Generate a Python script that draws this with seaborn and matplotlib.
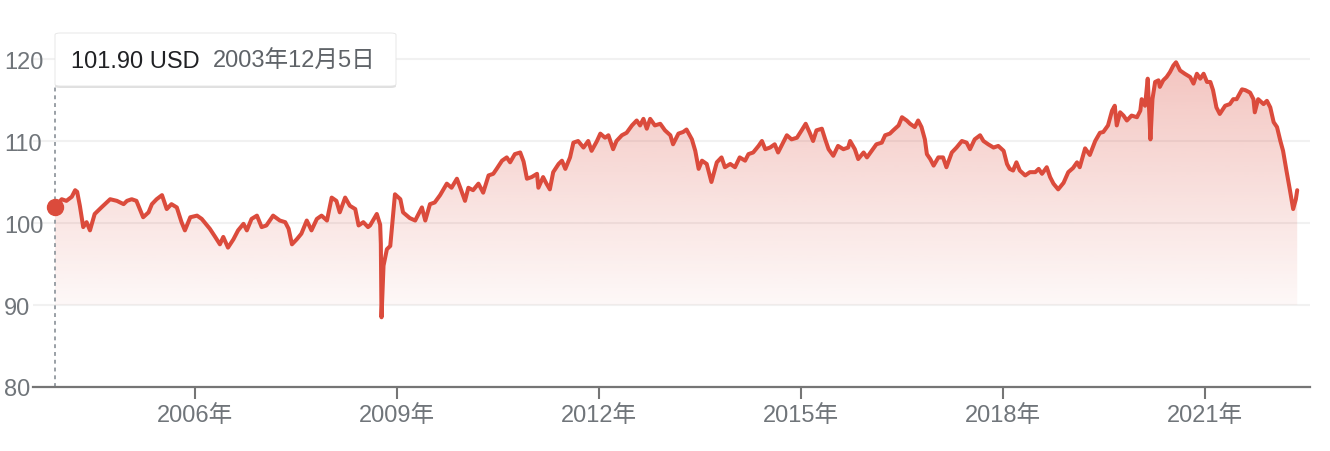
import matplotlib

matplotlib.use("Agg")
import matplotlib.pyplot as plt
import numpy as np
import seaborn as sns
from matplotlib.patches import FancyBboxPatch

# decimal years, with the matching price (USD)
years = [
    2003.92, 2004.02, 2004.09, 2004.17, 2004.22, 2004.25, 2004.29, 2004.34, 2004.39, 2004.44,
    2004.51, 2004.61, 2004.74, 2004.84, 2004.94, 2004.99, 2005.06, 2005.13, 2005.23, 2005.31,
    2005.36, 2005.43, 2005.51, 2005.58, 2005.65, 2005.73, 2005.80, 2005.85, 2005.93, 2006.03,
    2006.10, 2006.17, 2006.22, 2006.30, 2006.37, 2006.42, 2006.49, 2006.57, 2006.64, 2006.72,
    2006.77, 2006.84, 2006.92, 2006.99, 2007.06, 2007.16, 2007.26, 2007.34, 2007.39, 2007.44,
    2007.51, 2007.58, 2007.66, 2007.73, 2007.81, 2007.88, 2007.96, 2008.03, 2008.10, 2008.15,
    2008.23, 2008.30, 2008.38, 2008.43, 2008.50, 2008.57, 2008.60, 2008.70, 2008.75, 2008.76,
    2008.77, 2008.80, 2008.85, 2008.90, 2008.97, 2009.05, 2009.09, 2009.19, 2009.27, 2009.37,
    2009.42, 2009.49, 2009.56, 2009.64, 2009.74, 2009.81, 2009.89, 2009.94, 2010.01, 2010.06,
    2010.13, 2010.21, 2010.28, 2010.36, 2010.43, 2010.48, 2010.56, 2010.63, 2010.68, 2010.75,
    2010.83, 2010.88, 2010.93, 2011.00, 2011.08, 2011.10, 2011.17, 2011.22, 2011.27, 2011.32,
    2011.40, 2011.45, 2011.50, 2011.57, 2011.62, 2011.69, 2011.77, 2011.84, 2011.89, 2011.97,
    2012.02, 2012.09, 2012.14, 2012.21, 2012.26, 2012.34, 2012.41, 2012.49, 2012.56, 2012.61,
    2012.66, 2012.71, 2012.76, 2012.83, 2012.91, 2012.98, 2013.06, 2013.10, 2013.18, 2013.25,
    2013.30, 2013.38, 2013.43, 2013.48, 2013.53, 2013.60, 2013.67, 2013.75, 2013.82, 2013.87,
    2013.95, 2014.02, 2014.09, 2014.17, 2014.22, 2014.29, 2014.37, 2014.42, 2014.47, 2014.54,
    2014.61, 2014.66, 2014.71, 2014.79, 2014.86, 2014.94, 2015.01, 2015.07, 2015.13, 2015.18,
    2015.23, 2015.31, 2015.36, 2015.41, 2015.48, 2015.55, 2015.63, 2015.70, 2015.73, 2015.80,
    2015.85, 2015.93, 2015.98, 2016.05, 2016.12, 2016.20, 2016.25, 2016.32, 2016.37, 2016.45,
    2016.50, 2016.57, 2016.62, 2016.69, 2016.74, 2016.79, 2016.84, 2016.87, 2016.92, 2016.97,
    2017.04, 2017.11, 2017.16, 2017.24, 2017.31, 2017.39, 2017.46, 2017.51, 2017.58, 2017.66,
    2017.71, 2017.78, 2017.86, 2017.93, 2018.01, 2018.06, 2018.10, 2018.15, 2018.20, 2018.25,
    2018.33, 2018.40, 2018.48, 2018.53, 2018.58, 2018.65, 2018.70, 2018.75, 2018.82, 2018.90,
    2018.97, 2019.04, 2019.10, 2019.14, 2019.22, 2019.29, 2019.37, 2019.44, 2019.49, 2019.56,
    2019.62, 2019.66, 2019.69, 2019.74, 2019.79, 2019.84, 2019.91, 2019.99, 2020.04, 2020.06,
    2020.11, 2020.15, 2020.17, 2020.19, 2020.22, 2020.26, 2020.31, 2020.33, 2020.38, 2020.43,
    2020.48, 2020.53, 2020.57, 2020.63, 2020.70, 2020.78, 2020.83, 2020.88, 2020.93, 2020.98,
    2021.03, 2021.08, 2021.12, 2021.17, 2021.22, 2021.30, 2021.37, 2021.42, 2021.47, 2021.55,
    2021.60, 2021.67, 2021.72, 2021.74, 2021.79, 2021.87, 2021.92, 2021.97, 2022.02, 2022.07,
    2022.12, 2022.16, 2022.21, 2022.26, 2022.31, 2022.35, 2022.37,
]
prices = [
    101.9, 102.9, 102.7, 103.2, 104.0, 103.8, 102.1, 99.5, 100.1, 99.1,
    101.1, 101.9, 102.9, 102.7, 102.3, 102.7, 102.9, 102.7, 100.7, 101.3,
    102.3, 102.9, 103.4, 101.7, 102.3, 101.9, 100.1, 99.1, 100.7, 100.9,
    100.5, 99.8, 99.3, 98.3, 97.4, 98.3, 97.0, 98.0, 99.1, 99.9,
    99.1, 100.5, 100.9, 99.5, 99.7, 100.9, 100.3, 100.1, 99.3, 97.4,
    98.0, 98.7, 100.3, 99.1, 100.5, 100.9, 100.3, 103.1, 102.7, 101.3,
    103.1, 102.1, 101.7, 99.7, 100.1, 99.5, 99.7, 101.1, 99.8, 97.5,
    88.5, 94.8, 96.8, 97.2, 103.5, 102.9, 101.3, 100.6, 100.3, 101.9,
    100.3, 102.3, 102.5, 103.4, 104.8, 104.3, 105.4, 104.3, 102.7, 104.3,
    104.0, 104.8, 103.7, 105.8, 106.0, 106.6, 107.6, 108.0, 107.4, 108.4,
    108.6, 107.5, 105.4, 105.6, 106.0, 104.3, 105.6, 104.8, 104.1, 106.2,
    107.2, 107.6, 106.6, 108.0, 109.8, 110.0, 109.2, 110.0, 108.8, 110.0,
    110.9, 110.4, 110.7, 109.0, 110.0, 110.7, 111.0, 111.9, 112.5, 111.9,
    112.7, 111.5, 112.7, 111.9, 112.1, 111.3, 110.7, 109.6, 110.9, 111.1,
    111.4, 110.2, 108.8, 106.6, 107.6, 107.2, 105.0, 107.4, 108.0, 106.8,
    107.2, 106.8, 108.0, 107.6, 108.4, 108.6, 109.4, 110.0, 109.0, 109.2,
    109.6, 108.6, 109.4, 110.7, 110.2, 110.4, 111.3, 112.1, 111.0, 110.0,
    111.3, 111.5, 110.2, 109.0, 108.2, 109.4, 109.0, 109.2, 110.0, 109.0,
    107.8, 108.6, 108.0, 108.8, 109.6, 109.8, 110.7, 110.9, 111.3, 111.9,
    112.9, 112.5, 112.1, 111.7, 112.5, 111.7, 110.2, 108.4, 107.8, 107.0,
    108.0, 108.0, 106.8, 108.6, 109.2, 110.0, 109.8, 109.0, 110.2, 110.7,
    110.0, 109.6, 109.2, 109.4, 108.8, 107.2, 106.6, 106.4, 107.4, 106.4,
    105.8, 106.2, 106.2, 106.6, 106.0, 106.8, 105.6, 104.8, 104.1, 104.9,
    106.2, 106.7, 107.4, 106.8, 109.1, 108.3, 110.0, 111.0, 111.1, 111.9,
    113.7, 114.3, 111.9, 113.5, 113.1, 112.5, 113.1, 112.9, 113.7, 115.1,
    114.3, 117.6, 113.9, 110.2, 115.1, 117.2, 117.4, 116.6, 117.4, 117.8,
    118.4, 119.2, 119.6, 118.6, 118.2, 117.8, 117.0, 118.2, 117.6, 118.2,
    117.2, 117.2, 116.2, 114.1, 113.3, 114.3, 114.5, 115.1, 115.1, 116.3,
    116.2, 115.9, 115.1, 113.5, 115.1, 114.5, 114.9, 114.1, 112.3, 111.7,
    110.0, 108.8, 106.4, 104.1, 101.7, 102.9, 104.0,
]
tick_years = [2006, 2009, 2012, 2015, 2018, 2021]
y_ticks = [80, 90, 100, 110, 120]
tooltip_price = "101.90 USD"
tooltip_date = "2003年12月5日"

RED = "#db4b3c"
GREY = "#70757a"

sns.set_theme(style="white")
plt.rcParams["font.family"] = ["Liberation Sans", "Noto Sans CJK JP", "DejaVu Sans"]

W, H = 1330, 452
fig = plt.figure(figsize=(W / 100, H / 100), dpi=100)
ax = fig.add_axes([33 / W, 1 - 388 / H, 1277 / W, 369 / H])
XLIM = (2003.594, 2022.560)
YLIM = (80, 125)

# gridlines
for v in y_ticks[1:]:
    ax.axhline(v, color="#f1f1f1", lw=1.5, zorder=0)

# gradient fill under the line, fading out at the 90 line
fill = ax.fill_between(years, prices, 90, facecolor="none", edgecolor="none")
n = 256
img = np.zeros((n, 1, 4))
img[:, 0, :3] = matplotlib.colors.to_rgb(RED)
img[:, 0, 3] = np.linspace(0.33, 0.02, n)
im = ax.imshow(img, extent=[years[0], years[-1], 88, 120], aspect="auto",
               origin="upper", zorder=1, interpolation="bilinear")
im.set_clip_path(fill.get_paths()[0], transform=ax.transData)
ax.set_xlim(*XLIM)
ax.set_ylim(*YLIM)

sns.lineplot(x=years, y=prices, ax=ax, color=RED, linewidth=2.9, zorder=3)
ax.lines[-1].set_solid_joinstyle("round")

# hover marker and dotted guide (runs from the tooltip down to the axis)
ax.axvline(years[0], ymin=0, ymax=(116.6 - YLIM[0]) / (YLIM[1] - YLIM[0]),
           color="#9aa0a6", lw=1.4, ls=(0, (2, 2)), zorder=2)
ax.plot([years[0]], [prices[0]], "o", ms=11.5, color=RED, zorder=4)

# axes styling
for side in ["top", "right", "left"]:
    ax.spines[side].set_visible(False)
ax.spines["bottom"].set_color("#757575")
ax.spines["bottom"].set_linewidth(1.6)
ax.spines["bottom"].set_zorder(5)

ax.set_xticks(tick_years)
ax.set_xticklabels([f"{y}年" for y in tick_years])
ax.set_yticks(y_ticks)
ax.set_yticklabels([str(v) for v in y_ticks])
ax.tick_params(axis="x", length=8.5, width=1.5, color="#757575", pad=4,
               labelsize=17, labelcolor=GREY, bottom=True)
ax.tick_params(axis="y", length=0, pad=21, labelsize=17, labelcolor=GREY)
for lab in ax.get_yticklabels():
    lab.set_horizontalalignment("left")
ax.set_xlabel("")
ax.set_ylabel("")
ax.grid(False)

# tooltip box
bx0, by0, bx1, by1 = 55, 34, 396, 87
shadow = FancyBboxPatch((bx0 / W, 1 - (by1 + 2) / H), (bx1 - bx0) / W, (by1 - by0) / H,
                        boxstyle="round,pad=0,rounding_size=0.004", transform=fig.transFigure,
                        facecolor="#000000", alpha=0.12, edgecolor="none", zorder=9,
                        clip_on=False)
box = FancyBboxPatch((bx0 / W, 1 - by1 / H), (bx1 - bx0) / W, (by1 - by0) / H,
                     boxstyle="round,pad=0,rounding_size=0.004", transform=fig.transFigure,
                     facecolor="white", edgecolor="#e4e4e4", lw=0.6, zorder=10, clip_on=False)
ax.add_patch(shadow)
ax.add_patch(box)
fig.text(71 / W, 1 - 68 / H, tooltip_price, fontsize=17, color="#202124",
         va="baseline", ha="left", zorder=11)
fig.text(213 / W, 1 - 68 / H, tooltip_date, fontsize=17, color="#5f6368",
         va="baseline", ha="left", zorder=11)

fig.savefig("out.png", dpi=100)
